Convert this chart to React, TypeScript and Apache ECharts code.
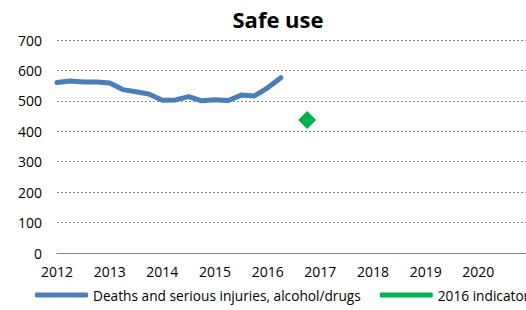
import React, { useEffect, useRef } from "react";
import * as echarts from "echarts";

const quarters = [2012, 2012.25, 2012.5, 2012.75, 2013, 2013.25, 2013.5, 2013.75, 2014, 2014.25, 2014.5, 2014.75, 2015, 2015.25, 2015.5, 2015.75, 2016, 2016.25];
const deaths = [560, 565, 562, 562, 559, 537, 530, 522, 502, 503, 514, 500, 504, 501, 519, 516, 543, 576];
const indicatorX = [2016.75];
const indicatorY = [437];
const seriesNames = ["Deaths and serious injuries, alcohol/drugs", "2016 indicator"];

export default function App() {
  const ref = useRef<HTMLDivElement>(null);
  useEffect(() => {
    if (!ref.current) return;
    const chart = echarts.init(ref.current, null, { renderer: "svg" });
    const font = "Open Sans";
    chart.setOption({
      animation: false,
      textStyle: { fontFamily: font },
      title: {
        text: "Safe use",
        left: 273,
        top: 3,
        textAlign: "center",
        textStyle: { fontFamily: font, fontWeight: "bold", fontSize: 22, color: "#000" },
      },
      legend: {
        left: 35,
        top: 288,
        padding: 0,
        itemWidth: 53,
        itemHeight: 5,
        itemGap: 19,
        icon: "roundRect",
        textStyle: { fontFamily: font, fontSize: 13.7, color: "#000" },
        data: [
          { name: seriesNames[0], itemStyle: { color: "#4a7ebb", opacity: 1 } },
          { name: seriesNames[1], itemStyle: { color: "#00b050", opacity: 1 } },
        ],
      },
      grid: { left: 57, top: 40, width: 474, bottom: 57 },
      xAxis: {
        type: "value",
        min: 2012,
        max: 2021,
        interval: 1,
        axisLine: { show: true, onZero: false, lineStyle: { color: "#888", width: 1 } },
        axisTick: { show: false },
        splitLine: { show: false },
        axisLabel: {
          show: true,
          margin: 11,
          fontSize: 14,
          color: "#000",
          fontFamily: font,
          showMaxLabel: false,
          formatter: (v: number) => String(v),
        },
      },
      yAxis: {
        type: "value",
        min: 0,
        max: 700,
        interval: 100,
        axisLine: { show: false },
        axisTick: { show: false },
        axisLabel: { margin: 15, fontSize: 14, color: "#000", fontFamily: font },
        splitLine: { lineStyle: { color: "#888", type: [2, 2], width: 1 } },
      },
      series: [
        {
          name: seriesNames[0],
          type: "line",
          data: quarters.map((q, i) => [q, deaths[i]]),
          showSymbol: false,
          symbol: "none",
          lineStyle: { color: "#4a7ebb", width: 5, cap: "round", join: "round" },
          itemStyle: { color: "#4a7ebb" },
        },
        {
          name: seriesNames[1],
          type: "scatter",
          symbol: "diamond",
          symbolSize: 18,
          data: indicatorX.map((x, i) => [x, indicatorY[i]]),
          itemStyle: { color: "#00b050", opacity: 1 },
        },
      ],
    });
    return () => chart.dispose();
  }, []);
  return (
    <div style={{ position: "absolute", left: 0, top: 0, width: 526, height: 310, overflow: "hidden", background: "#fff" }}>
      <div ref={ref} style={{ width: 600, height: 310 }} />
    </div>
  );
}
